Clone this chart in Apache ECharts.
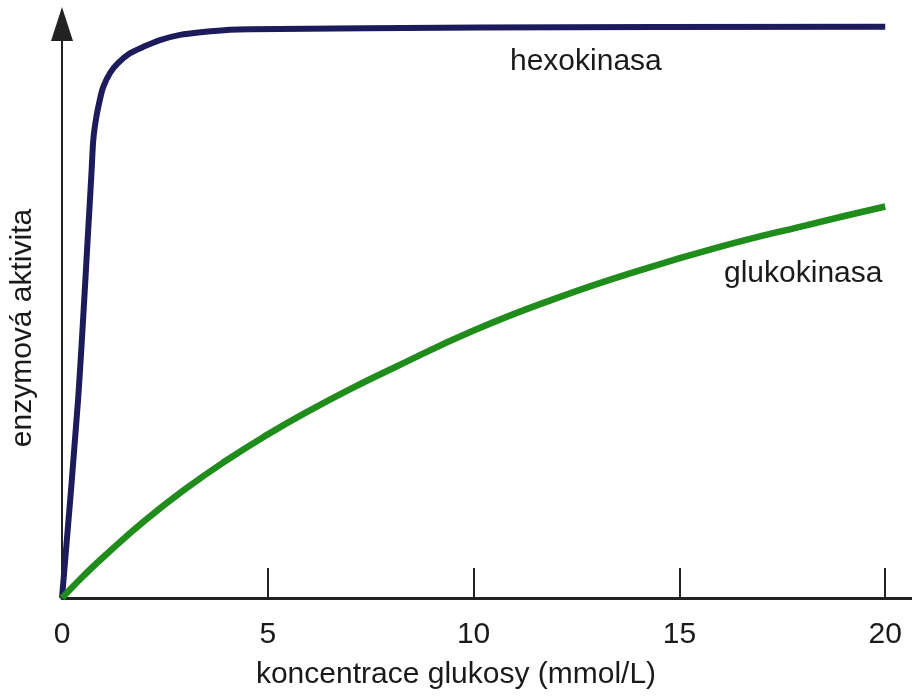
<!DOCTYPE html>
<html>
<head>
<meta charset="utf-8">
<script src="https://cdn.jsdelivr.net/npm/echarts@6/dist/echarts.min.js"></script>
<style>
  html, body { margin: 0; padding: 0; background: #fff; }
  #chart { width: 912px; height: 698px; }
</style>
</head>
<body>
<div id="chart"></div>
<script>
const xTicks = [5, 10, 15, 20];
const xLabels = [0, 5, 10, 15, 20];

// koncentrace glukosy (mmol/L) -> aktivita
const hexoX = [0, 0.39, 0.66, 0.72, 0.76, 0.83, 0.92, 1.00, 1.17, 1.36, 1.65, 1.97, 2.38, 2.87, 3.43, 4.08, 4.57, 10.16, 20];
const hexoY = [0, 34.5, 67.0, 74.6, 79.8, 83.6, 86.8, 89.0, 91.5, 93.2, 94.9, 96.0, 97.2, 98.1, 98.6, 99.0, 99.1, 99.4, 99.5];

const glukoX = [0, 0.5, 1, 2, 3, 4, 5, 6, 7, 8, 10, 12, 14, 16, 18, 20];
const glukoY = [0, 3.7, 7.1, 13.4, 19.0, 24.0, 28.5, 32.6, 36.4, 39.9, 46.6, 52.2, 57.0, 61.2, 64.8, 68.2];

const font = 'Liberation Sans, Arial, Helvetica, sans-serif';
const textColor = '#1a1a1a';

const zip = (xs, ys) => xs.map((x, i) => [x, ys[i]]);

const chart = echarts.init(document.getElementById('chart'), null, { renderer: 'canvas' });

chart.setOption({
  animation: false,
  backgroundColor: '#fff',
  grid: { left: 62, right: 0, top: 24, bottom: 100 },
  xAxis: {
    type: 'value',
    min: 0,
    max: 20.65,
    interval: 5,
    splitLine: { show: false },
    axisLine: { lineStyle: { color: '#222', width: 3 } },
    axisTick: {
      inside: true,
      length: 30,
      customValues: xTicks,
      lineStyle: { color: '#222', width: 2 }
    },
    axisLabel: {
      customValues: xLabels,
      margin: 37,
      verticalAlign: 'middle',
      fontSize: 30,
      fontFamily: font,
      color: textColor
    }
  },
  yAxis: {
    type: 'value',
    min: 0,
    max: 100,
    splitLine: { show: false },
    axisTick: { show: false },
    axisLabel: { show: false },
    axisLine: {
      symbol: ['none', 'triangle'],
      symbolSize: [22, 34],
      lineStyle: { color: '#222', width: 2 }
    }
  },
  graphic: [
    {
      type: 'text', left: 510, top: 47,
      style: { text: 'hexokinasa', fontSize: 30, fontFamily: font, fill: textColor }
    },
    {
      type: 'text', left: 724, top: 259,
      style: { text: 'glukokinasa', fontSize: 30, fontFamily: font, fill: textColor }
    },
    {
      type: 'text', x: 456, y: 675,
      style: {
        text: 'koncentrace glukosy (mmol/L)', fontSize: 30, fontFamily: font, fill: textColor,
        align: 'center', verticalAlign: 'middle'
      }
    },
    {
      type: 'text', x: 23, y: 328, rotation: Math.PI / 2,
      style: {
        text: 'enzymová aktivita', fontSize: 30, fontFamily: font, fill: textColor,
        align: 'center', verticalAlign: 'middle'
      }
    }
  ],
  series: [
    {
      name: 'hexokinasa',
      type: 'line',
      data: zip(hexoX, hexoY),
      smooth: 0.3,
      showSymbol: false,
      lineStyle: { color: '#1c1c5c', width: 6 }
    },
    {
      name: 'glukokinasa',
      type: 'line',
      data: zip(glukoX, glukoY),
      smooth: true,
      showSymbol: false,
      lineStyle: { color: '#1f8c1c', width: 6.5 }
    }
  ]
});
</script>
</body>
</html>
